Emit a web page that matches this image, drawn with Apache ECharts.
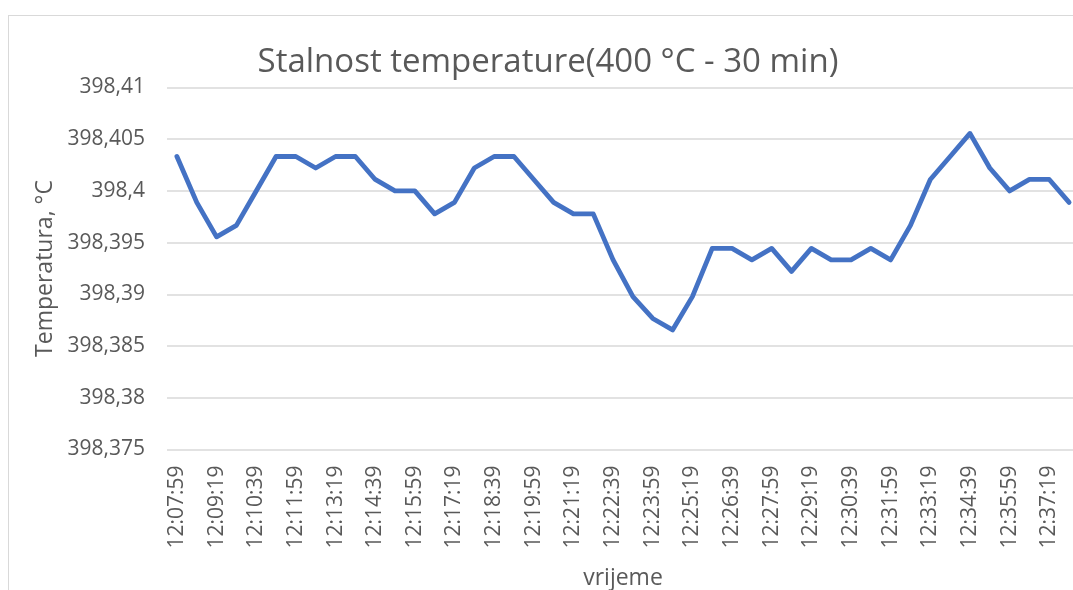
<!DOCTYPE html>
<html>
<head>
<meta charset="utf-8">
<title>Stalnost temperature</title>
<script src="https://cdn.jsdelivr.net/npm/echarts@6/dist/echarts.min.js"></script>
<style>
  html, body { margin: 0; padding: 0; background: #fff; overflow: hidden; }
  .frame { position: absolute; left: 8px; top: 15px; width: 2000px; height: 2000px; border: 1px solid #d9d9d9; }
  #chart { position: absolute; left: 0; top: 0; width: 1073px; height: 590px; }
</style>
</head>
<body>
<div class="frame"></div>
<div id="chart"></div>
<script>
// vrijeme (svakih 40 s)
const times = [
  '12:07:59', '12:08:39', '12:09:19', '12:09:59', '12:10:39', '12:11:19', '12:11:59', '12:12:39',
  '12:13:19', '12:13:59', '12:14:39', '12:15:19', '12:15:59', '12:16:39', '12:17:19', '12:17:59',
  '12:18:39', '12:19:19', '12:19:59', '12:20:39', '12:21:19', '12:21:59', '12:22:39', '12:23:19',
  '12:23:59', '12:24:39', '12:25:19', '12:25:59', '12:26:39', '12:27:19', '12:27:59', '12:28:39',
  '12:29:19', '12:29:59', '12:30:39', '12:31:19', '12:31:59', '12:32:39', '12:33:19', '12:33:59',
  '12:34:39', '12:35:19', '12:35:59', '12:36:39', '12:37:19', '12:37:59'
]

// temperatura, °C
const temperature = [
  398.40333, 398.39889, 398.39556, 398.39667, 398.40000, 398.40333, 398.40333, 398.40222,
  398.40333, 398.40333, 398.40111, 398.40000, 398.40000, 398.39778, 398.39889, 398.40222,
  398.40333, 398.40333, 398.40111, 398.39889, 398.39778, 398.39778, 398.39333, 398.38978,
  398.38767, 398.38656, 398.38978, 398.39444, 398.39444, 398.39333, 398.39444, 398.39222,
  398.39444, 398.39333, 398.39333, 398.39444, 398.39333, 398.39667, 398.40111, 398.40333,
  398.40556, 398.40222, 398.40000, 398.40111, 398.40111, 398.39889
]

const yMin = 398.375
const yMax = 398.41
const yStep = 0.005

const textColor = '#595959'
const gridColor = '#d9d9d9'
const fontFamily = '"Open Sans", "Noto Sans", sans-serif'

const chart = echarts.init(document.getElementById('chart'))

chart.setOption({
  backgroundColor: 'transparent',
  animation: false,
  title: {
    text: 'Stalnost temperature(400 °C - 30 min)',
    left: 543,
    top: 41,
    textAlign: 'center',
    textStyle: { color: textColor, fontSize: 33, fontWeight: 'normal', fontFamily }
  },
  grid: {
    left: 167,
    top: 87.5,
    width: 912,
    height: 362,
    outerBoundsMode: 'none',
    containLabel: false
  },
  xAxis: {
    type: 'category',
    data: times,
    boundaryGap: true,
    name: 'vrijeme',
    nameLocation: 'middle',
    nameGap: 117,
    nameTextStyle: { color: textColor, fontSize: 23, fontFamily },
    axisLine: { show: false },
    axisTick: { show: false },
    axisLabel: {
      interval: 1,
      rotate: 90,
      margin: 16,
      color: textColor,
      fontSize: 21,
      fontFamily
    },
    splitLine: { show: false }
  },
  yAxis: {
    type: 'value',
    min: yMin,
    max: yMax,
    interval: yStep,
    name: 'Temperatura, °C',
    nameLocation: 'middle',
    nameGap: 110,
    nameTextStyle: { color: textColor, fontSize: 23, fontFamily },
    axisLine: { show: false },
    axisTick: { show: false },
    axisLabel: {
      margin: 22,
      color: textColor,
      fontSize: 21,
      fontFamily,
      formatter: v => String(+v.toFixed(3)).replace('.', ',')
    },
    splitLine: { lineStyle: { color: gridColor, width: 1.5 } }
  },
  series: [{
    type: 'line',
    data: temperature,
    symbol: 'none',
    lineStyle: { color: '#4472c4', width: 4.8, join: 'round', cap: 'round' }
  }]
})
</script>
</body>
</html>
